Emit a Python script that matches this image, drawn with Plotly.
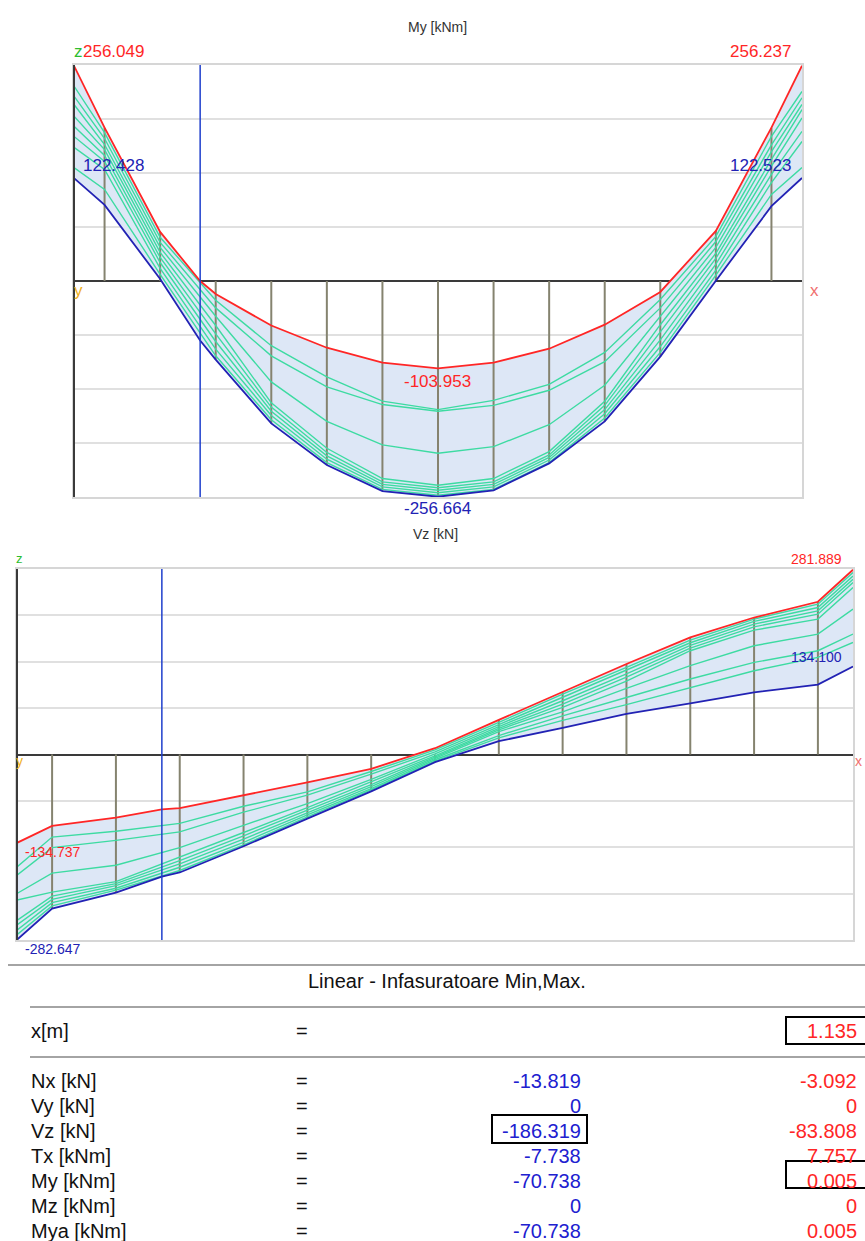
import plotly.graph_objects as go

W, H = 865, 1241
FONT = "Liberation Sans, Arial, sans-serif"

# ---- member geometry [m] ----
L = 6.55
x_cur = 1.135
# output stations (envelope additionally evaluated at the cursor position)
x_st = [0.0, 0.275, 0.775, 1.275, 1.775, 2.275, 2.775, 3.275, 3.775, 4.275,
        4.775, 5.275, 5.775, 6.275, 6.55]
x_env = [0.0, 0.275, 0.775, 1.135, 1.275, 1.775, 2.275, 2.775, 3.275, 3.775,
         4.275, 4.775, 5.275, 5.775, 6.275, 6.55]

# ---- My [kNm] envelope ----
my_max = [256.049, 182.5, 58.4, 0.005, -15.4, -53.0, -79.4, -97.0, -103.953,
          -97.0, -80.6, -52.0, -13.0, 59.6, 182.5, 256.237]
my_min = [122.428, 90.5, 2.4, -70.738, -93.6, -169.5, -219.0, -250.0, -256.664,
          -249.0, -217.0, -167.0, -90.0, 0.4, 89.0, 122.523]

# My per load combination (at x_st)
my_combos = [
    [232, 176.6, 52, -23, -77, -114, -143, -153, -142, -123, -85, -22, 53, 172, 225.5],
    [220, 169.5, 46, -32, -89, -126, -147, -155, -148, -130, -96, -32, 47, 162, 218],
    [210, 162.4, 40, -42, -120, -167, -195, -205, -197, -171, -124, -42, 40, 154, 210],
    [196, 156.4, 34, -53, -145, -199, -235, -243, -235, -203, -143, -52, 33, 144.6, 204],
    [184, 149.3, 28, -63, -150, -204, -239, -246, -239, -207, -148, -61, 27, 136.6, 194],
    [172, 142.2, 22, -72, -155, -208, -242, -249, -242, -210, -153, -70, 20, 126.8, 178],
    [159, 132.7, 15, -81, -160, -212, -245, -252, -245, -213, -158, -78, 13, 117, 166],
    [135, 109, 8, -89, -165, -216, -248, -255, -248, -216, -163, -85, 7, 103, 135],
]

# ---- Vz [kN] envelope ----
vz_max = [-134.737, -109.0, -96.4, -83.808, -81.7, -62.4, -42.6, -21.8, 9.6,
          52.8, 95.0, 138.0, 178.6, 209.0, 233.0, 281.889]
vz_min = [-282.647, -235.0, -210.6, -186.319, -180.0, -140.0, -97.9, -56.3, -11.7,
          20.3, 40.6, 62.0, 78.0, 94.9, 106.6, 134.100]

vz_combos = [
    [-171.5, -126, -117, -105, -79, -57, -26, 7, 49, 92, 133, 174.6, 206.5, 229.3, 277.5],
    [-184, -142, -131, -118, -88, -62, -30, 4, 45.7, 87, 128, 170.5, 203, 224.2, 272.4],
    [-212, -181, -169, -142, -108, -75, -38, 1, 42.6, 82, 123, 166.4, 198.9, 219.2, 267.3],
    [-222, -210, -194, -157, -119, -81, -42, -2, 40, 77, 118, 162.4, 194.8, 214.1, 262.3],
    [-253, -216, -197, -162, -124, -85, -46, -4, 37.6, 72, 112, 158.3, 189.7, 206.5, 254.6],
    [-260, -221, -200, -167, -129, -89, -49, -6, 35, 65, 101, 135.5, 165.9, 183.7, 221.7],
    [-268, -226, -204, -172, -134, -92, -52, -8, 28.9, 59, 87, 115.2, 140.5, 158.3, 183.7],
    [-275, -231, -207, -177, -138, -95, -54, -10, 25.4, 52, 76, 102.4, 127.8, 148.1, 170.9],
]

# ---- result table at the cursor ----
table_title = "Linear - Infasuratoare Min,Max."
table_labels = ["Nx [kN]", "Vy [kN]", "Vz [kN]", "Tx [kNm]", "My [kNm]", "Mz [kNm]", "Mya [kNm]"]
table_min = [-13.819, 0, -186.319, -7.738, -70.738, 0, -70.738]
table_max = [-3.092, 0, -83.808, 7.757, 0.005, 0, 0.005]

C_RED = "#ff2626"
C_BLUE = "#2222b4"
C_CUR = "#1f3fcc"
C_GREEN = "#3ddba2"
C_FILL = "#dde7f6"
C_STATION = "#85836f"
C_GRID = "#e0e0e0"
C_AXIS = "#3a3a3a"


def P(px, py):
    return px / W, 1 - py / H


fig = go.Figure()


def add_diagram(xa, ya, vmax, vmin, combos):
    # shaded envelope
    fig.add_trace(go.Scatter(x=x_env, y=vmin, mode="lines", line=dict(width=0),
                             xaxis=xa, yaxis=ya, hoverinfo="skip"))
    fig.add_trace(go.Scatter(x=x_env, y=vmax, mode="lines", line=dict(width=0),
                             fill="tonexty", fillcolor=C_FILL,
                             xaxis=xa, yaxis=ya, hoverinfo="skip"))
    # station ordinates, from the axis to the governing extreme
    sx, sy = [], []
    for xv, a, b in zip(x_env, vmax, vmin):
        if xv in (0.0, L, x_cur):
            continue
        ext = a if abs(a) >= abs(b) else b
        sx += [xv, xv, None]
        sy += [0, ext, None]
    fig.add_trace(go.Scatter(x=sx, y=sy, mode="lines",
                             line=dict(color=C_STATION, width=2),
                             xaxis=xa, yaxis=ya, hoverinfo="skip"))
    for c in combos:
        fig.add_trace(go.Scatter(x=x_st, y=c, mode="lines",
                                 line=dict(color=C_GREEN, width=1.4),
                                 xaxis=xa, yaxis=ya))
    fig.add_trace(go.Scatter(x=x_env, y=vmax, mode="lines",
                             line=dict(color=C_RED, width=1.8), xaxis=xa, yaxis=ya))
    fig.add_trace(go.Scatter(x=x_env, y=vmin, mode="lines",
                             line=dict(color=C_BLUE, width=1.8), xaxis=xa, yaxis=ya))


add_diagram("x", "y", my_max, my_min, my_combos)
add_diagram("x2", "y2", vz_max, vz_min, vz_combos)

my_lim = 257.0
vz_lim = 283.0


def yaxis_cfg(dom, lim):
    step = lim / 4
    return dict(domain=dom, range=[-lim, lim],
                tickvals=[-3 * step, -2 * step, -step, step, 2 * step, 3 * step],
                showticklabels=False, ticks="", showgrid=True, gridcolor=C_GRID,
                gridwidth=1.5, zeroline=True, zerolinecolor=C_AXIS, zerolinewidth=2,
                showline=True, mirror=True, linecolor="#d6d6d6", linewidth=1.5,
                fixedrange=True)


def xaxis_cfg(dom, anchor):
    return dict(domain=dom, range=[0, L], showticklabels=False, ticks="",
                showgrid=False, zeroline=False, showline=True, mirror=True,
                linecolor="#d6d6d6", linewidth=1.5, anchor=anchor, fixedrange=True)


fig.update_layout(
    width=W, height=H, margin=dict(l=0, r=0, t=0, b=0),
    paper_bgcolor="white", plot_bgcolor="white", showlegend=False,
    xaxis=xaxis_cfg([74 / W, 802 / W], "y"),
    yaxis=dict(yaxis_cfg([1 - 497 / H, 1 - 65 / H], my_lim), anchor="x"),
    xaxis2=xaxis_cfg([17 / W, 853 / W], "y2"),
    yaxis2=dict(yaxis_cfg([1 - 940 / H, 1 - 569 / H], vz_lim), anchor="x2"),
)

shapes = []
# dark left axes and cursor lines
for xr, yr in (("x", "y"), ("x2", "y2")):
    shapes.append(dict(type="line", xref=xr + " domain", yref=yr + " domain",
                       x0=0, x1=0, y0=0, y1=1, line=dict(color=C_AXIS, width=2)))
    shapes.append(dict(type="line", xref=xr, yref=yr + " domain",
                       x0=x_cur, x1=x_cur, y0=0, y1=1, line=dict(color=C_CUR, width=1.5)))

# table rules and highlight boxes
for (x0, y0, x1) in ((8, 965, 865), (30, 1007, 865), (30, 1057, 865)):
    a0, b0 = P(x0, y0)
    a1, _ = P(x1, y0)
    shapes.append(dict(type="line", xref="paper", yref="paper", x0=a0, x1=a1,
                       y0=b0, y1=b0, line=dict(color="#a4a4a4", width=2)))
for (x0, y0, x1, y1) in ((786, 1017, 866, 1044), (492, 1115, 587, 1143), (786, 1161, 866, 1188)):
    a0, b0 = P(x0, y0)
    a1, b1 = P(x1, y1)
    shapes.append(dict(type="rect", xref="paper", yref="paper", x0=a0, x1=a1,
                       y0=b1, y1=b0, line=dict(color="black", width=2)))

ann = []


def label(text, px, py, color, size, anchor="center", family=FONT):
    x, y = P(px, py)
    ann.append(dict(text=text, x=x, y=y, xref="paper", yref="paper",
                    xanchor=anchor, yanchor="middle", showarrow=False,
                    font=dict(family=family, size=size, color=color)))


fmt = lambda v: f"{v:.3f}"
i_mid = x_env.index(3.275)

# My diagram texts
label("My [kNm]", 437, 27, "#333333", 14)
label("z", 78, 52, "#2ebd2e", 17)
label(fmt(my_max[0]), 81, 52, C_RED, 17, "left")
label(fmt(my_max[-1]), 793, 52, C_RED, 17, "right")
label(fmt(my_min[0]), 81, 166, C_BLUE, 17, "left")
label(fmt(my_min[-1]), 793, 166, C_BLUE, 17, "right")
label(fmt(my_max[i_mid]), 437, 381, C_RED, 17)
label(fmt(my_min[i_mid]), 437, 509, C_BLUE, 17)
label("y", 78, 290, "#f0b020", 17)
label("x", 814, 290, "#f07070", 17)

# Vz diagram texts
label("Vz [kN]", 435, 534, "#333333", 14)
label("z", 19, 558, "#2ebd2e", 13)
label(fmt(vz_max[-1]), 844, 559, C_RED, 14, "right")
label(fmt(vz_min[-1]), 844, 657, C_BLUE, 14, "right")
label(fmt(vz_max[0]), 23, 852, C_RED, 14, "left")
label(fmt(vz_min[0]), 23, 949, C_BLUE, 14, "left")
label("y", 19, 761, "#f0b020", 14)
label("x", 864, 761, "#f07070", 14, "right")

# result table
label(table_title, 447, 981, "#111111", 20)
label("x[m]", 29, 1031, "#111111", 20, "left")
label("=", 302, 1031, "#111111", 20)
label(f"{x_cur:g}", 859, 1031, C_RED, 20, "right")
row_y = [1081, 1106, 1131, 1156, 1181, 1206, 1231]
for name, vmn, vmx, yy in zip(table_labels, table_min, table_max, row_y):
    label(name, 29, yy, "#111111", 20, "left")
    label("=", 302, yy, "#111111", 20)
    label(f"{vmn:g}", 583, yy, "#2020d0", 20, "right")
    label(f"{vmx:g}", 859, yy, C_RED, 20, "right")

fig.update_layout(shapes=shapes, annotations=ann)
fig.write_html("out.html")
